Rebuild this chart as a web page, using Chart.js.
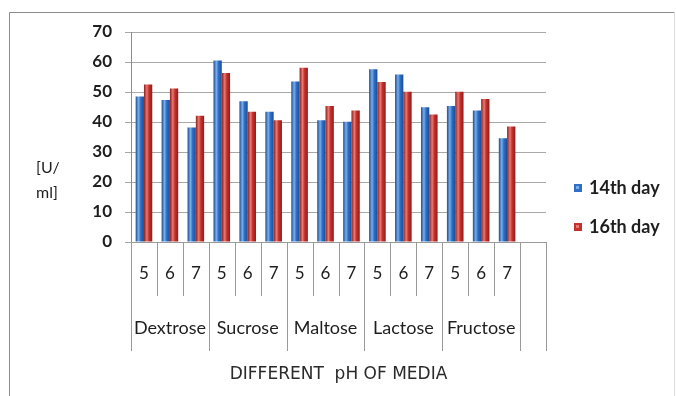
<!DOCTYPE html>
<html>
<head>
<meta charset="utf-8">
<script src="https://cdn.jsdelivr.net/npm/chart.js@4/dist/chart.umd.min.js"></script>
<style>
  html, body { margin: 0; padding: 0; background: #fff; }
  #wrap { width: 676px; height: 396px; position: relative; }
</style>
</head>
<body>
<div id="wrap"><canvas id="c" width="676" height="396"></canvas></div>
<script>
// Sugar sources and pH levels of the growth media
const sugars = ['Dextrose', 'Sucrose', 'Maltose', 'Lactose', 'Fructose'];
const phLevels = ['5', '6', '7'];

// Enzyme activity [U/ml] per sugar / pH (last slot left empty)
const day14 = [48.5, 47.3, 38.2, 60.5, 46.9, 43.4, 53.5, 40.6, 40.1, 57.6, 55.8, 44.9, 45.3, 43.8, 34.6, null];
const day16 = [52.5, 51.2, 42.1, 56.3, 43.4, 40.6, 58.1, 45.3, 43.8, 53.3, 50.1, 42.5, 50.1, 47.7, 38.5, null];

const seriesNames = ['14th day', '16th day'];
const yTicks = [0, 10, 20, 30, 40, 50, 60, 70];

// one category per sugar/pH pair, plus a trailing blank slot
const categories = [];
sugars.forEach(() => phLevels.forEach(p => categories.push(p)));
categories.push('');

const palette = [
  { base: '#2f6fc6', dark: '#1d4c93', light: '#7aaeea' },
  { base: '#c5302c', dark: '#8c1d1a', light: '#e87a74' }
];

function barFill(idx) {
  const c = palette[idx];
  return (ctx) => {
    const el = ctx.element;
    if (!el || el.width == null || isNaN(el.x)) return c.base;
    const x0 = el.x - el.width / 2;
    const g = ctx.chart.ctx.createLinearGradient(x0, 0, x0 + el.width, 0);
    g.addColorStop(0, c.dark);
    g.addColorStop(0.35, c.light);
    g.addColorStop(0.6, c.base);
    g.addColorStop(1, c.dark);
    return g;
  };
}

const FONT = 'Lato';
const TEXT = '#1e1e1e';
const LINE = '#9a9a9a';

// frame, two-level category axis, unit label and legend
const decorations = {
  id: 'decorations',
  beforeDraw(chart) {
    const { ctx } = chart;
    ctx.save();
    ctx.strokeStyle = '#8c8c8c';
    ctx.lineWidth = 1;
    ctx.beginPath();
    ctx.moveTo(9.5, 400);
    ctx.lineTo(9.5, 12.5);
    ctx.lineTo(674.5, 12.5);
    ctx.stroke();
    ctx.strokeStyle = '#dcdcdc';
    ctx.beginPath();
    ctx.moveTo(674.5, 12.5);
    ctx.lineTo(674.5, 400);
    ctx.stroke();
    ctx.restore();
  },
  afterDraw(chart) {
    const { ctx } = chart;
    const xs = chart.scales.x;
    const axisY = chart.chartArea.bottom;
    const groupSize = phLevels.length;
    ctx.save();
    ctx.strokeStyle = LINE;
    ctx.lineWidth = 1;
    for (let k = 0; k <= categories.length; k++) {
      const x = Math.round(xs.getPixelForValue(k - 0.5)) + 0.5;
      const isGroupEdge = (k % groupSize === 0) || k === categories.length;
      const yEnd = isGroupEdge ? 351 : 296;
      ctx.beginPath();
      ctx.moveTo(x, axisY);
      ctx.lineTo(x, yEnd);
      ctx.stroke();
    }
    ctx.fillStyle = TEXT;
    ctx.textAlign = 'center';
    ctx.textBaseline = 'middle';
    ctx.font = `18px ${FONT}`;
    sugars.forEach((name, g) => {
      const a = xs.getPixelForValue(g * groupSize - 0.5);
      const b = xs.getPixelForValue((g + 1) * groupSize - 0.5);
      ctx.fillText(name, (a + b) / 2, 328);
    });

    // unit label
    ctx.font = `16px ${FONT}`;
    ctx.textAlign = 'left';
    ctx.fillText('[U/', 36, 168);
    ctx.fillText('ml]', 36, 193);

    // legend
    const legendY = [188, 227];
    chart.data.datasets.forEach((ds, i) => {
      const c = palette[i];
      const y = legendY[i];
      ctx.fillStyle = c.base;
      ctx.fillRect(574, y - 4, 8, 8);
      ctx.fillStyle = c.light;
      ctx.fillRect(576, y - 2, 3, 3);
      ctx.fillStyle = TEXT;
      ctx.font = `bold 18px ${FONT}`;
      ctx.textAlign = 'left';
      ctx.fillText(ds.label, 589, y);
    });
    ctx.restore();
  }
};

const chart = new Chart(document.getElementById('c'), {
  type: 'bar',
  data: {
    labels: categories,
    datasets: [
      { label: seriesNames[0], data: day14, backgroundColor: barFill(0) },
      { label: seriesNames[1], data: day16, backgroundColor: barFill(1) }
    ]
  },
  options: {
    responsive: false,
    devicePixelRatio: 1,
    animation: false,
    events: [],
    categoryPercentage: 0.64,
    barPercentage: 1.0,
    layout: { padding: { top: 32, right: 130, bottom: 0, left: 0 } },
    plugins: {
      legend: { display: false },
      tooltip: { enabled: false }
    },
    scales: {
      x: {
        offset: true,
        grid: { display: false, drawTicks: false },
        border: { display: true, color: LINE, width: 1 },
        ticks: {
          autoSkip: false,
          maxRotation: 0,
          padding: 21,
          color: TEXT,
          font: { family: FONT, size: 17 }
        },
        title: {
          display: true,
          text: 'DIFFERENT  pH OF MEDIA',
          color: '#2a2a2a',
          font: { family: 'DejaVu Sans', size: 17 },
          padding: { top: 0, bottom: 11 }
        },
        afterFit(scale) { scale.height = 154; }
      },
      y: {
        min: 0,
        max: 70,
        afterBuildTicks(scale) { scale.ticks = yTicks.map(v => ({ value: v })); },
        grid: { color: '#a8a8a8', lineWidth: 1, tickLength: 6 },
        border: { display: true, color: '#8c8c8c', width: 1 },
        ticks: {
          padding: 13,
          color: TEXT,
          font: { family: FONT, size: 17, weight: 'bold' }
        },
        afterFit(scale) { scale.width = 131; }
      }
    }
  },
  plugins: [decorations]
});
// second pass so the bar gradients follow the laid-out bar positions
chart.update('none');
</script>
</body>
</html>
